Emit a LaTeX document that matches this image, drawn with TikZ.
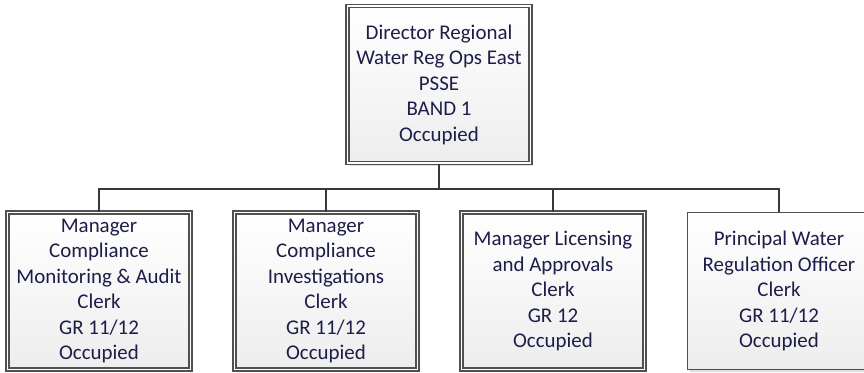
\documentclass[tikz,border=0pt]{standalone}
\usepackage{fontspec}
\setmainfont{Carlito}
\usetikzlibrary{shadows}
\definecolor{inkblue}{RGB}{28,30,72}
\definecolor{framegray}{RGB}{80,80,80}
\definecolor{linkgray}{RGB}{56,56,56}

\begin{document}
\begin{tikzpicture}[x=1bp, y=-1bp,
  post/.style={draw=framegray, line width=1.3bp, top color=white, bottom color=gray!14,
    drop shadow={shadow xshift=2.5bp, shadow yshift=-2.5bp, opacity=0.25},
    minimum width=183bp, minimum height=157bp, inner sep=0pt, align=center,
    text=inkblue, font=\fontsize{21}{25.6}\selectfont},
  dbl/.style={post, double=white, double distance=1.8bp},
  link/.style={draw=linkgray, line width=2bp}]
  \useasboundingbox (0,0) rectangle (864,372);
  % Director
  \node[dbl] (dir) at (439,84.5)
  {Director Regional\\Water Reg Ops East\\PSSE\\BAND 1\\Occupied};
  % Managers
  \node[dbl] (mon) at (99,291)
  {Manager\\Compliance\\Monitoring \& Audit\\Clerk\\GR 11/12\\Occupied};
  \node[dbl] (inv) at (326,291)
  {Manager\\Compliance\\Investigations\\Clerk\\GR 11/12\\Occupied};
  \node[dbl] (lic) at (553,291)
  {Manager Licensing\\and Approvals\\Clerk\\GR 12\\Occupied};
  % Officer
  \node[post] (pwr) at (779,291)
  {Principal Water\\Regulation Officer\\Clerk\\GR 11/12\\Occupied};
  % Lines
  \coordinate (bus) at ([yshift=-25bp]dir.south);
  \draw[link] (dir.south) -- (bus) -| (mon.north);
  \draw[link] (bus) -| (inv.north);
  \draw[link] (bus) -| (lic.north);
  \draw[link] (bus) -| (pwr.north);
\end{tikzpicture}
\end{document}
